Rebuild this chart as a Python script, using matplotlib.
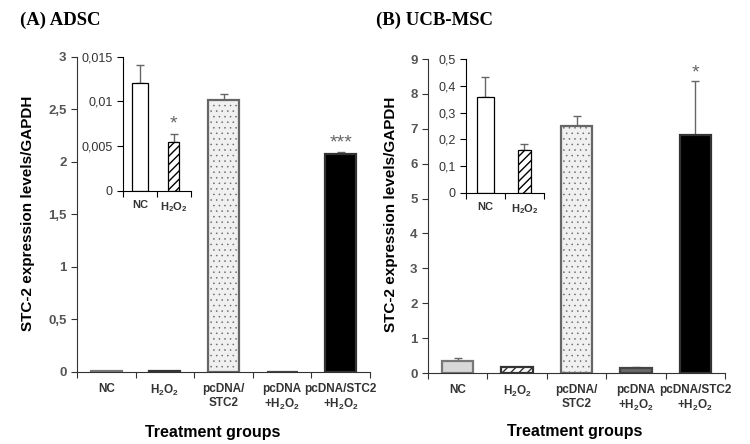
import matplotlib
matplotlib.use("Agg")
import matplotlib.pyplot as plt
from matplotlib import font_manager
from matplotlib.ticker import FuncFormatter, FixedLocator

# data
groups = ["NC", "H$_2$O$_2$", "pcDNA/\nSTC2", "pcDNA\n+H$_2$O$_2$", "pcDNA/STC2\n+H$_2$O$_2$"]
inset_groups = ["NC", "H$_2$O$_2$"]

adsc_vals = [0.0121, 0.0055, 2.59, 0.004, 2.076]
adsc_err = [0.002, 0.0009, 0.06, 0.0, 0.02]
adsc_inset_vals = [0.0121, 0.0055]
adsc_inset_err = [0.002, 0.0009]
adsc_yticks = [0, 0.5, 1, 1.5, 2, 2.5, 3]
adsc_inset_yticks = [0, 0.005, 0.01, 0.015]

ucb_vals = [0.357, 0.159, 7.08, 0.13, 6.82]
ucb_err = [0.075, 0.024, 0.30, 0.03, 1.55]
ucb_inset_vals = [0.357, 0.159]
ucb_inset_err = [0.075, 0.024]
ucb_yticks = list(range(10))
ucb_inset_yticks = [0, 0.1, 0.2, 0.3, 0.4, 0.5]

def pick(names):
    have = {f.name for f in font_manager.fontManager.ttflist}
    return [n for n in names if n in have] + ["DejaVu Sans"]

narrow = pick(["Liberation Sans Narrow", "Liberation Sans"])
plt.rcParams['font.family'] = narrow
plt.rcParams['mathtext.default'] = 'regular'
plt.rcParams['hatch.linewidth'] = 1.0

GRAY = "#555555"
comma = FuncFormatter(lambda v, p: ("%g" % v).replace(".", ","))

main_face = ["#d8d8d8", "#ffffff", "#f0f0f0", "#6a6a6a", "#000000"]
main_edge = ["#777777", "#333333", "#666666", "#444444", "#333333"]
main_hatch = [None, "////", "...", None, None]
hatch_lw = [1.0, 1.0, 0.35, 1.0, 1.0]

fig = plt.figure(figsize=(7.5, 4.44), dpi=100)


def main_panel(rect, vals, err, yticks, ylab_x, xlab_xy, marks):
    ax = fig.add_axes(rect)
    x = list(range(len(vals)))
    for i in x:
        with plt.rc_context({'hatch.linewidth': hatch_lw[i]}):
            ax.bar(i, vals[i], width=0.53, color=main_face[i], edgecolor=main_edge[i],
                   hatch=main_hatch[i], linewidth=1.6, zorder=2)
    ax.errorbar(x, vals, yerr=[[0] * len(err), err], fmt="none", ecolor="#666666",
                elinewidth=1, capsize=3, capthick=1, zorder=1)
    ax.set_xlim(-0.5, len(vals) - 0.5)
    ax.set_ylim(yticks[0], yticks[-1])
    ax.set_yticks(yticks)
    ax.yaxis.set_major_formatter(comma)
    ax.xaxis.set_major_locator(FixedLocator([i - 0.5 for i in range(len(vals) + 1)]))
    ax.xaxis.set_major_formatter(FuncFormatter(lambda v, p: ""))
    ax.xaxis.set_minor_locator(FixedLocator(x))
    ax.set_xticklabels(groups, minor=True)
    ax.tick_params(axis="x", which="minor", length=0, pad=8, labelsize=8.5, labelcolor="#333333")
    ax.tick_params(axis="x", which="major", length=4, direction="out", color="#333333")
    ax.tick_params(axis="y", length=4, direction="out", labelsize=9.5, labelcolor=GRAY, color="#333333")
    for lab in ax.get_xticklabels(minor=True) + ax.get_yticklabels():
        lab.set_fontweight("bold")
    for s in ["top", "right"]:
        ax.spines[s].set_visible(False)
    for s in ["left", "bottom"]:
        ax.spines[s].set_color("#333333")
    ax.set_ylabel("STC-2 expression levels/GAPDH", fontsize=11, fontweight="bold",
                  family=["Liberation Sans", "DejaVu Sans"])
    ax.yaxis.set_label_coords(ylab_x, 0.505)
    ax.set_xlabel("Treatment groups", fontsize=11.5, fontweight="bold",
                  family=["Liberation Sans", "DejaVu Sans"])
    ax.xaxis.set_label_coords(*xlab_xy)
    for i, m in marks:
        ax.annotate(m, (i, vals[i] + err[i]), xytext=(0, 0), textcoords="offset points",
                    ha="center", va="bottom", fontsize=14, color="#666666")
    return ax


def inset_panel(rect, vals, err, yticks, marks):
    ax = fig.add_axes(rect)
    widths = [0.45, 0.33]
    hatches = [None, "////"]
    for i in range(len(vals)):
        ax.bar(i, vals[i], width=widths[i], color="white", edgecolor="black",
               hatch=hatches[i], linewidth=0.9, zorder=2)
    ax.errorbar(range(len(vals)), vals, yerr=[[0] * len(err), err], fmt="none",
                ecolor="#666666", elinewidth=1, capsize=3, capthick=1, zorder=1)
    ax.set_xlim(-0.5, 1.5)
    ax.set_ylim(yticks[0], yticks[-1])
    ax.set_yticks(yticks)
    ax.yaxis.set_major_formatter(comma)
    ax.xaxis.set_major_locator(FixedLocator([-0.5, 0.5, 1.5]))
    ax.xaxis.set_major_formatter(FuncFormatter(lambda v, p: ""))
    ax.xaxis.set_minor_locator(FixedLocator([0, 1]))
    ax.set_xticklabels(inset_groups, minor=True)
    ax.tick_params(axis="x", which="minor", length=0, pad=7, labelsize=8, labelcolor="#333333")
    ax.tick_params(axis="x", which="major", length=4, direction="out")
    ax.tick_params(axis="y", length=4, direction="out", labelsize=9, labelcolor="#333333")
    for lab in ax.get_xticklabels(minor=True):
        lab.set_fontweight("bold")
    for s in ["top", "right"]:
        ax.spines[s].set_visible(False)
    ax.patch.set_alpha(0)
    for i, m in marks:
        ax.annotate(m, (i, vals[i] + err[i]), xytext=(0, 1), textcoords="offset points",
                    ha="center", va="bottom", fontsize=14, color="#666666")
    return ax


main_panel([0.1027, 0.1622, 0.3907, 0.7095], adsc_vals, adsc_err, adsc_yticks,
           -0.143, (0.464, -0.168), [(4, "***")])
inset_panel([0.164, 0.5705, 0.0903, 0.3018], adsc_inset_vals, adsc_inset_err,
            adsc_inset_yticks, [(1, "*")])

main_panel([0.5707, 0.1599, 0.396, 0.7072], ucb_vals, ucb_err, ucb_yticks,
           -0.101, (0.495, -0.162), [(4, "*")])
inset_panel([0.6213, 0.566, 0.104, 0.3005], ucb_inset_vals, ucb_inset_err,
            ucb_inset_yticks, [])

fig.text(0.027, 0.955, "(A) ADSC", fontsize=13.5, fontweight="bold",
         family=["Liberation Serif", "DejaVu Serif"], va="center")
fig.text(0.502, 0.955, "(B) UCB-MSC", fontsize=13.5, fontweight="bold",
         family=["Liberation Serif", "DejaVu Serif"], va="center")

fig.savefig("out.png", dpi=100)
